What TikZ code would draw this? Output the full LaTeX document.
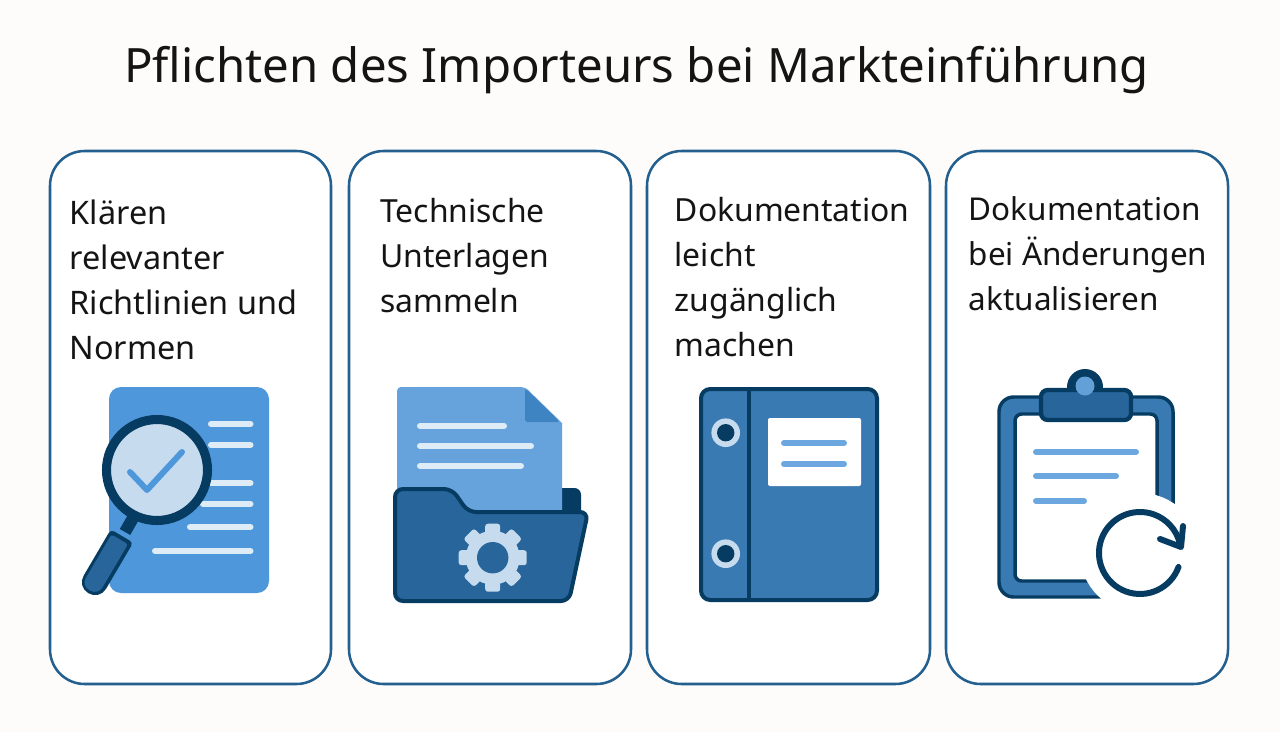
\documentclass[tikz,border=0pt]{standalone}
\usepackage{fontspec}
\setmainfont{Noto Sans}
\definecolor{bgc}{HTML}{FEFCFA}
\definecolor{cardline}{HTML}{23608F}
\definecolor{ink}{HTML}{141414}
\definecolor{darkb}{HTML}{063C62}
\definecolor{midb}{HTML}{28659A}
\definecolor{steel}{HTML}{3A7AB3}
\definecolor{skyb}{HTML}{4E97DB}
\definecolor{paperb}{HTML}{66A3DC}
\definecolor{foldb}{HTML}{3F84C2}
\definecolor{palel}{HTML}{DEECF8}
\definecolor{pale}{HTML}{C6DBEE}
\definecolor{lineb}{HTML}{6CA7DF}
\tikzset{
  card/.style={draw=cardline,fill=white,line width=1.9pt,rounded corners=26pt},
  label/.style={anchor=north west,inner sep=0pt,align=left,text=ink},
  bar/.style={line width=4.5pt,line cap=round},
}
\newcommand{\lblfont}[1]{\fontsize{#1}{33.75}\selectfont}
\begin{document}
\begin{tikzpicture}[x=0.75pt,y=-0.75pt]
\useasboundingbox (0,0) rectangle (1280,732);
\fill[bgc] (0,0) rectangle (1280,732);
\node[inner sep=0pt,text=ink,font=\fontsize{35.5}{45}\selectfont] (title) at (636.5,70) {Pflichten des Importeurs bei Markteinführung};
% cards
\draw[card] (50,151) rectangle (331,684);
\draw[card] (349,151) rectangle (631,684);
\draw[card] (647,151) rectangle (930,684);
\draw[card] (946,151) rectangle (1228,684);
\node[label,font=\lblfont{24.3}] (t1) at (69.5,199.5) {Klären\\relevanter\\Richtlinien und\\Normen};
\node[label,font=\lblfont{23.9}] (t2) at (380,198.5) {Technische\\Unterlagen\\sammeln};
\node[label,font=\lblfont{23.9}] (t3) at (674.5,197.5) {Dokumentation\\leicht\\zugänglich\\machen};
\node[label,font=\lblfont{23.6}] (t4) at (968.5,196.5) {Dokumentation\\bei Änderungen\\aktualisieren};
% icon 1: document with magnifier
\fill[skyb,rounded corners=9pt] (109,387) rectangle (269,593);
\foreach \a/\b in {211/424,211/445,211/483,203/504,190/527,155/551}
  \draw[bar,palel] (\a,\b) -- (250.5,\b);
\draw[darkb,line width=9pt] (133,518) -- (125,532);
\fill[darkb,rounded corners=3pt] (110.8,529.4) -- (133.2,542.6) [rounded corners=9.5pt] -- (99.6,599.8) -- (77.2,586.6) [rounded corners=3pt] -- cycle;
\fill[midb,rounded corners=2pt] (111.4,534.4) -- (128,544.2) [rounded corners=6.5pt] -- (98,595) -- (81.4,585.6) [rounded corners=2pt] -- cycle;
\draw[darkb,fill=pale,line width=6.8pt] (157,470) circle[radius=50.5];
\draw[skyb,line width=4.5pt,line cap=round,line join=round] (130,472) -- (147,490) -- (182,452);
% icon 2: folder
\fill[darkb,rounded corners=5pt] (540,488) -- (581,488) -- (581,530) -- (540,530) -- cycle;
\fill[paperb,rounded corners=3pt] (397,387) -- (525,387) [sharp corners] -- (562,423) -- (562,515) -- (397,515) [rounded corners=3pt] -- cycle;
\fill[foldb,rounded corners=2pt] (525,388) -- (560,422) -- (525,422) -- cycle;
\draw[bar,palel] (420,426) -- (504,426);
\draw[bar,palel] (420,446) -- (531,446);
\draw[bar,palel] (420,466) -- (521,466);
\draw[darkb,fill=midb,line width=3pt,rounded corners=6pt] (395,489) -- (452,489) -- (468,512) -- (588,512) -- (569,601) -- (395,601) -- cycle;
\begin{scope}[shift={(492.7,557.7)}]
\foreach \r in {0,45,...,315}
  \fill[pale,rotate=\r,rounded corners=2pt] (18,-7.5) rectangle (34,7.5);
\fill[pale] (0,0) circle[radius=27];
\fill[midb] (0,0) circle[radius=15.7];
\end{scope}
% icon 3: binder
\draw[darkb,fill=steel,line width=3pt,rounded corners=7pt] (701,389) rectangle (877,600);
\draw[darkb,line width=3pt] (749,389) -- (749,600);
\foreach \b in {432.7,553.7}{
  \fill[pale] (725.7,\b) circle[radius=14.3];
  \fill[darkb] (725.7,\b) circle[radius=8.7];
}
\fill[white,rounded corners=1.5pt] (768,418) rectangle (861,486);
\draw[bar,lineb] (784,443) -- (844,443);
\draw[bar,lineb] (784,464) -- (844,464);
% icon 4: clipboard
\draw[darkb,fill=steel,line width=2.6pt,rounded corners=11pt] (999,397) rectangle (1173,597);
\draw[darkb,fill=white,line width=2.6pt,rounded corners=5pt] (1015,414) rectangle (1157,581);
\fill[white] (1140,553) circle[radius=60];
\fill[darkb] (1085,387) circle[radius=18];
\draw[darkb,fill=midb,line width=3.2pt,rounded corners=5pt] (1041,390) rectangle (1131,420);
\fill[lineb!85!steel] (1085,386) circle[radius=9.5];
\draw[bar,lineb] (1036,452) -- (1136,452);
\draw[bar,lineb] (1036,476) -- (1116,476);
\draw[bar,lineb] (1036,501) -- (1084,501);
\draw[darkb,line width=4.5pt,line cap=round] (1178.5,567) arc[start angle=20,end angle=345,radius=41];
\draw[darkb,line width=4.5pt,line cap=round,line join=round] (1183,526) -- (1181,547) -- (1160,539);
\end{tikzpicture}
\end{document}
